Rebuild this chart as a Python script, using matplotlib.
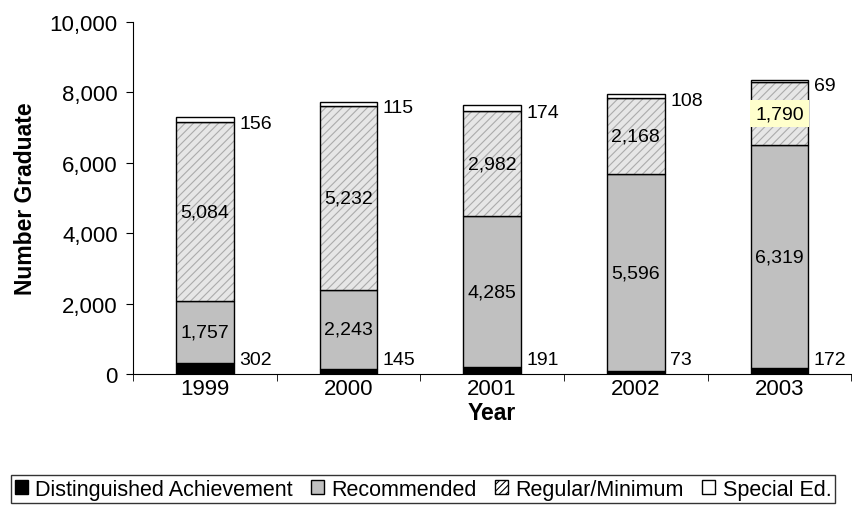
import matplotlib.pyplot as plt
from matplotlib.patches import Patch
from matplotlib.ticker import FuncFormatter
import numpy as np

plt.rcParams['font.family'] = ['Liberation Sans', 'DejaVu Sans']
plt.rcParams['hatch.linewidth'] = 0.8

years = ['1999', '2000', '2001', '2002', '2003']
distinguished = [302, 145, 191, 73, 172]
recommended = [1757, 2243, 4285, 5596, 6319]
regular = [5084, 5232, 2982, 2168, 1790]
special = [156, 115, 174, 108, 69]

fig = plt.figure(figsize=(8.53, 5.06), dpi=100)
ax = fig.add_axes([0.156, 0.259, 0.842, 0.696])

x = np.arange(len(years))
w = 0.4
d = np.array(distinguished)
r = np.array(recommended)
g = np.array(regular)
s = np.array(special)

ax.bar(x, d, w, color='black', edgecolor='black', linewidth=1)
ax.bar(x, r, w, bottom=d, color='#c0c0c0', edgecolor='black', linewidth=1)
# hatched fill first, then a plain black outline on top
ax.bar(x, g, w, bottom=d + r, color='#e6e6e6', edgecolor='#ababab',
       hatch='////', linewidth=0)
ax.bar(x, g, w, bottom=d + r, fill=False, edgecolor='black', linewidth=1)
ax.bar(x, s, w, bottom=d + r + g, color='white', edgecolor='black', linewidth=1)

fs = 14
for i in range(len(years)):
    # small segments are labelled beside the bar
    ax.annotate(f'{d[i]:,}', (x[i] + w / 2, 400), xytext=(4, 0),
                textcoords='offset points', ha='left', va='center', fontsize=fs)
    ax.annotate(f'{s[i]:,}', (x[i] + w / 2, d[i] + r[i] + g[i] + s[i] / 2),
                xytext=(4, -3), textcoords='offset points', ha='left',
                va='center', fontsize=fs)
    ax.text(x[i], d[i] + r[i] / 2, f'{r[i]:,}', ha='center', va='center',
            fontsize=fs)
    if i == 4:
        ax.text(x[i], d[i] + r[i] + g[i] / 2, f'{g[i]:,}', ha='center',
                va='center', fontsize=fs,
                bbox=dict(boxstyle='square,pad=0.25', facecolor='#ffffcc',
                          edgecolor='none'))
    else:
        ax.text(x[i], d[i] + r[i] + g[i] / 2, f'{g[i]:,}', ha='center',
                va='center', fontsize=fs)

ax.set_xlim(-0.5, 4.5)
ax.set_ylim(0, 10000)
ax.set_yticks(range(0, 10001, 2000))
ax.yaxis.set_major_formatter(FuncFormatter(lambda v, p: f'{int(v):,}'))
ax.set_xticks(x)
ax.set_xticklabels(years)
ax.set_xticks(np.arange(-0.5, 5, 1), minor=True)
ax.tick_params(axis='x', which='major', length=0, labelsize=16, pad=3)
ax.tick_params(axis='x', which='minor', length=5, direction='out')
ax.tick_params(axis='y', length=5, direction='out', labelsize=16, pad=6)

ax.spines['top'].set_visible(False)
ax.spines['right'].set_visible(False)
ax.set_xlabel('Year', fontsize=16.5, fontweight='bold', labelpad=1)
ax.set_ylabel('Number Graduate', fontsize=16.5, fontweight='bold', labelpad=9)

handles = [
    Patch(facecolor='black', edgecolor='black'),
    Patch(facecolor='#c0c0c0', edgecolor='black'),
    Patch(facecolor='white', edgecolor='black', hatch='/////'),
    Patch(facecolor='white', edgecolor='black'),
]
labels = ['Distinguished Achievement', 'Recommended', 'Regular/Minimum',
          'Special Ed.']
leg = fig.legend(handles, labels, loc='lower center', ncol=4,
                 bbox_to_anchor=(0.496, 0.0), fontsize=15.5, frameon=True,
                 fancybox=False, edgecolor='black', handlelength=0.6,
                 handleheight=0.6, handletextpad=0.35, columnspacing=0.85,
                 borderpad=0.15, borderaxespad=0.1)
leg.get_frame().set_linewidth(1)

fig.savefig('out.png', dpi=100)
